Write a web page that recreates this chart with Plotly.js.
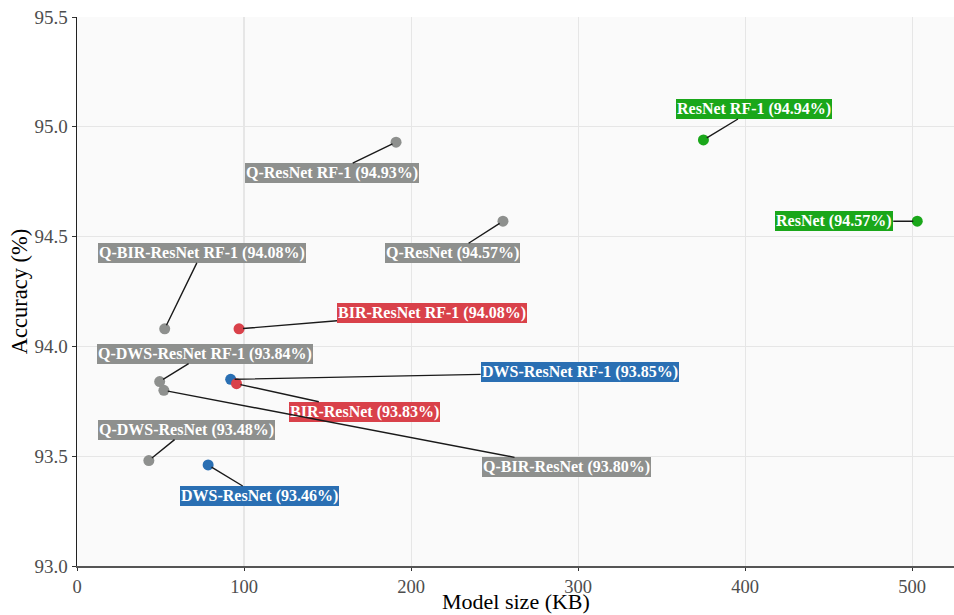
<!DOCTYPE html>
<html>
<head>
<meta charset="utf-8">
<script src="https://cdn.plot.ly/plotly-3.0.1.min.js"></script>
<style>html,body{margin:0;padding:0;background:#fff;}#chart{width:954px;height:615px;}</style>
</head>
<body>
<div id="chart"></div>
<script>
const models = ["ResNet RF-1","ResNet","Q-ResNet RF-1","Q-ResNet","Q-BIR-ResNet RF-1","BIR-ResNet RF-1","Q-DWS-ResNet RF-1","DWS-ResNet RF-1","BIR-ResNet","Q-BIR-ResNet","Q-DWS-ResNet","DWS-ResNet"];
const sizeKB = [375, 503, 191, 255, 52.5, 97, 49.5, 92, 95.5, 52, 43, 78.5];
const accuracy = [94.94, 94.57, 94.93, 94.57, 94.08, 94.08, 93.84, 93.85, 93.83, 93.80, 93.48, 93.46];
const family = ["full","full","quant","quant","quant","bir","quant","dws","bir","quant","quant","dws"];
const familyColors = {full:"#1aa71a", quant:"#8e908e", bir:"#d9414a", dws:"#2a6fb3"};
// label offsets in pixels (style only)
const labelDX = [51, -83, -64, -50, 37, 193, 45, 349, 128, 403, 38, 51];
const labelDY = [-31, 0, 31, 32, -76, -16, -28, -7, 28, 77, -31, 31];
const xTicks = [0, 100, 200, 300, 400, 500];
const yTicks = [93, 93.5, 94, 94.5, 95, 95.5];

const SERIF = "Liberation Serif";
const colors = family.map(f => familyColors[f]);
const trace = {
  x: sizeKB, y: accuracy, mode: "markers", type: "scatter",
  marker: {color: colors, size: 11},
  hoverinfo: "skip", showlegend: false
};
const annotations = models.map((m, i) => ({
  x: sizeKB[i], y: accuracy[i], xref: "x", yref: "y",
  text: "<b>" + m + " (" + accuracy[i].toFixed(2) + "%)</b>",
  showarrow: true, arrowhead: 0, arrowwidth: 1.4, arrowcolor: "#1a1a1a",
  ax: labelDX[i], ay: labelDY[i], standoff: 4,
  bgcolor: colors[i], borderpad: 1, borderwidth: 0,
  font: {family: SERIF, size: 16, color: "#ffffff"}
}));
// x-axis title as a text placed just under the tick labels
annotations.push({
  xref: "paper", yref: "paper", x: 0.5, y: -49 / 549, yanchor: "bottom", yshift: -1,
  showarrow: false, text: "Model size (KB)",
  font: {family: SERIF, size: 22, color: "#000"}
});
const layout = {
  width: 954, height: 615,
  margin: {l: 77, r: 0, t: 17, b: 49},
  paper_bgcolor: "#ffffff", plot_bgcolor: "#fafafa",
  font: {family: SERIF, color: "#4d4d4d"},
  xaxis: {
    range: [0, 525], tickvals: xTicks, ticktext: xTicks.map(String),
    showgrid: true, gridcolor: "#e6e6e6", gridwidth: 1.2, zeroline: false,
    showline: true, linecolor: "#555555", linewidth: 1.5,
    ticks: "outside", ticklen: 3, tickcolor: "#333333",
    tickfont: {family: SERIF, size: 18.5, color: "#4d4d4d"},
    automargin: false
  },
  yaxis: {
    range: [93, 95.5], tickvals: yTicks, ticktext: yTicks.map(v => v.toFixed(1)),
    showgrid: true, gridcolor: "#e6e6e6", gridwidth: 1.2, zeroline: false,
    showline: true, linecolor: "#222222", linewidth: 1.5,
    ticks: "outside", ticklen: 4, tickcolor: "#333333",
    tickfont: {family: SERIF, size: 19, color: "#4d4d4d"},
    automargin: false,
    title: {text: "Accuracy (%)", font: {family: SERIF, size: 22.5, color: "#000"}, standoff: 0}
  },
  annotations: annotations
};
Plotly.newPlot("chart", [trace], layout, {displayModeBar: false, staticPlot: true});
</script>
</body>
</html>
